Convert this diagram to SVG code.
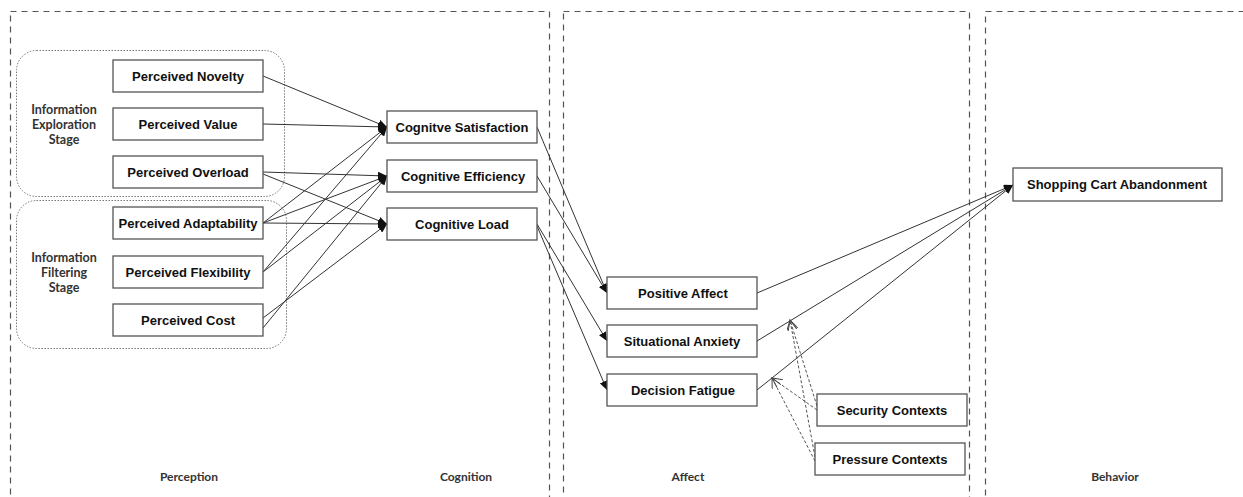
<svg xmlns="http://www.w3.org/2000/svg" width="1243" height="497" viewBox="0 0 1243 497">
<defs>
<style>
.panel{fill:none;stroke:#555;stroke-width:1.2;stroke-dasharray:6,5}
.grp{fill:none;stroke:#777;stroke-width:1;stroke-dasharray:1.5,1.5}
.box{fill:#fff;stroke:#555;stroke-width:1.3}
.t{font-family:"Liberation Sans",Arial,sans-serif;font-weight:bold;font-size:13px;fill:#111;text-anchor:middle}
.g{font-family:Lato,"Open Sans",sans-serif;font-weight:bold;font-size:12.5px;fill:#333;text-anchor:middle}
.p{font-family:Lato,"Open Sans",sans-serif;font-weight:bold;font-size:12px;fill:#333;text-anchor:middle}
.c{fill:none;stroke:#333;stroke-width:1;marker-end:url(#ah)}
.m{fill:none;stroke:#555;stroke-width:1;stroke-dasharray:3,2;marker-end:url(#oh)}
</style>
<marker id="ah" markerWidth="10" markerHeight="8" refX="9" refY="4" orient="auto" markerUnits="userSpaceOnUse">
<path d="M0,0 L9,4 L0,8 Z" fill="#111"/>
</marker>
<marker id="oh" markerWidth="12" markerHeight="10" refX="10" refY="5" orient="auto" markerUnits="userSpaceOnUse">
<path d="M0,0 L10,5 L0,10" fill="none" stroke="#444" stroke-width="1"/>
</marker>
</defs>
<g id="panels">
<rect class="panel" x="10.5" y="11.5" width="539" height="500"/>
<rect class="panel" x="563.5" y="11.5" width="406" height="500"/>
<rect class="panel" x="985.5" y="11.5" width="270" height="500"/>
<text class="p" x="189" y="481">Perception</text>
<text class="p" x="466" y="481">Cognition</text>
<text class="p" x="688" y="481">Affect</text>
<text class="p" x="1115" y="481">Behavior</text>
</g>
<g id="stage-exploration">
<rect class="grp" x="16.5" y="50.5" width="268" height="146" rx="20"/>
<text class="g" x="64" y="114">Information</text>
<text class="g" x="64" y="129">Exploration</text>
<text class="g" x="64" y="144">Stage</text>
</g>
<g id="stage-filtering">
<rect class="grp" x="16.5" y="200.5" width="270" height="148" rx="20"/>
<text class="g" x="64" y="262">Information</text>
<text class="g" x="64" y="277">Filtering</text>
<text class="g" x="64" y="292">Stage</text>
</g>
<g id="connectors">
<line class="c" x1="263" y1="76" x2="387" y2="127"/>
<line class="c" x1="263" y1="124" x2="387" y2="127"/>
<line class="c" x1="263" y1="172" x2="387" y2="176"/>
<line class="c" x1="263" y1="174" x2="387" y2="224"/>
<line class="c" x1="263" y1="223" x2="387" y2="127"/>
<line class="c" x1="263" y1="223" x2="387" y2="176"/>
<line class="c" x1="263" y1="223" x2="387" y2="224"/>
<line class="c" x1="263" y1="272" x2="387" y2="127"/>
<line class="c" x1="263" y1="272" x2="387" y2="176"/>
<line class="c" x1="263" y1="318" x2="387" y2="224"/>
<line class="c" x1="263" y1="328" x2="387" y2="176"/>
<line class="c" x1="537" y1="127" x2="607" y2="293"/>
<line class="c" x1="537" y1="176" x2="607" y2="293"/>
<line class="c" x1="537" y1="224" x2="607" y2="341"/>
<line class="c" x1="537" y1="226" x2="607" y2="390"/>
<line class="c" x1="757" y1="293" x2="1013" y2="185"/>
<line class="c" x1="757" y1="341" x2="1013" y2="185"/>
<line class="c" x1="757" y1="390" x2="1013" y2="185"/>
<line class="m" x1="817" y1="406" x2="790" y2="320"/>
<line class="m" x1="817" y1="410" x2="772" y2="378"/>
<line class="m" x1="815" y1="457" x2="790" y2="320"/>
<line class="m" x1="815" y1="461" x2="772" y2="378"/>
</g>
<g id="perceived-novelty"><rect class="box" x="113" y="60" width="150" height="32"/><text class="t" x="188" y="81">Perceived Novelty</text></g>
<g id="perceived-value"><rect class="box" x="113" y="108" width="150" height="32"/><text class="t" x="188" y="129">Perceived Value</text></g>
<g id="perceived-overload"><rect class="box" x="113" y="156" width="150" height="32"/><text class="t" x="188" y="177">Perceived Overload</text></g>
<g id="perceived-adaptability"><rect class="box" x="113" y="207" width="150" height="32"/><text class="t" x="188" y="228">Perceived Adaptability</text></g>
<g id="perceived-flexibility"><rect class="box" x="113" y="256" width="150" height="32"/><text class="t" x="188" y="277">Perceived Flexibility</text></g>
<g id="perceived-cost"><rect class="box" x="113" y="304" width="150" height="32"/><text class="t" x="188" y="325">Perceived Cost</text></g>
<g id="cognitive-satisfaction"><rect class="box" x="387" y="111" width="150" height="32"/><text class="t" x="462" y="132">Cognitve Satisfaction</text></g>
<g id="cognitive-efficiency"><rect class="box" x="387" y="160" width="150" height="32"/><text class="t" x="463" y="181">Cognitive Efficiency</text></g>
<g id="cognitive-load"><rect class="box" x="387" y="208" width="150" height="32"/><text class="t" x="462" y="229">Cognitive Load</text></g>
<g id="positive-affect"><rect class="box" x="607" y="277" width="150" height="32"/><text class="t" x="683" y="298">Positive Affect</text></g>
<g id="situational-anxiety"><rect class="box" x="607" y="325" width="150" height="32"/><text class="t" x="682" y="346">Situational Anxiety</text></g>
<g id="decision-fatigue"><rect class="box" x="607" y="374" width="150" height="32"/><text class="t" x="683" y="395">Decision Fatigue</text></g>
<g id="shopping-cart-abandonment"><rect class="box" x="1013" y="168" width="209" height="33"/><text class="t" x="1117" y="189">Shopping Cart Abandonment</text></g>
<g id="security-contexts"><rect class="box" x="817" y="394" width="150" height="32"/><text class="t" x="892" y="415">Security Contexts</text></g>
<g id="pressure-contexts"><rect class="box" x="815" y="443" width="150" height="32"/><text class="t" x="890" y="464">Pressure Contexts</text></g>
</svg>
